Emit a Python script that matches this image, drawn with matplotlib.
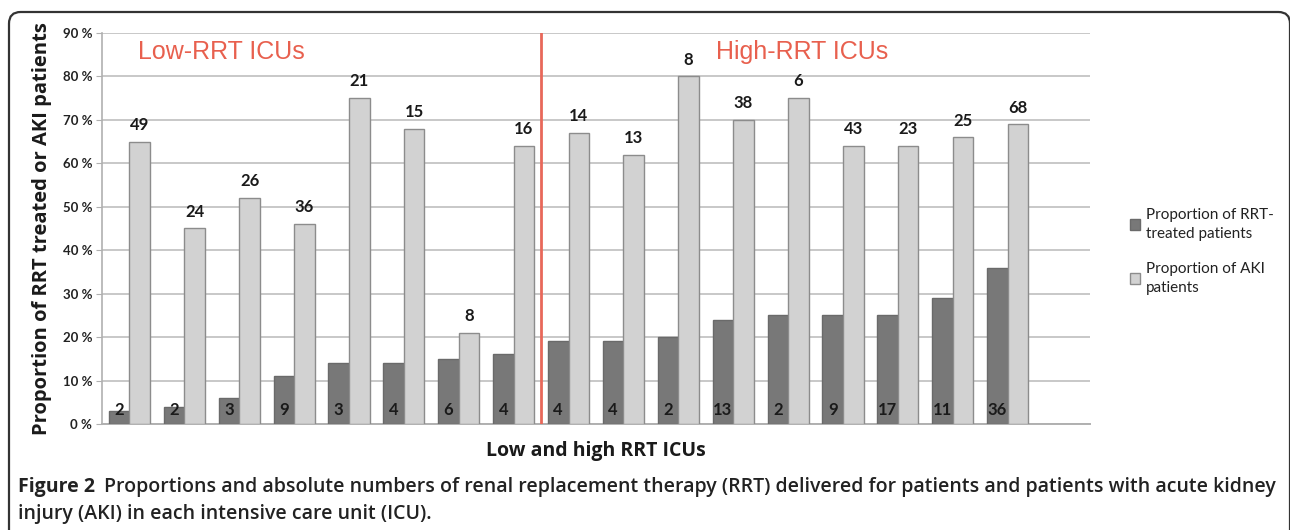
import matplotlib
matplotlib.use('Agg')
import matplotlib.pyplot as plt
from matplotlib.patches import FancyBboxPatch

# proportions (%) per ICU
rrt_pct = [3, 4, 6, 11, 14, 14, 15, 16, 19, 19, 20, 24, 25, 25, 25, 29, 36]
aki_pct = [65, 45, 52, 46, 75, 68, 21, 64, 67, 62, 80, 70, 75, 64, 64, 66, 69]
# absolute numbers
rrt_n = [2, 2, 3, 9, 3, 4, 6, 4, 4, 4, 2, 13, 2, 9, 17, 11, 36]
aki_n = [49, 24, 26, 36, 21, 15, 8, 16, 14, 13, 8, 38, 6, 43, 23, 25, 68]
yticks = [0, 10, 20, 30, 40, 50, 60, 70, 80, 90]

W, H = 1290, 530
fig = plt.figure(figsize=(W / 100, H / 100), dpi=100)
fig.patch.set_facecolor('white')


def fx(x):
    return x / W


def fy(y):
    return 1 - y / H


# rounded frame around figure
frame = FancyBboxPatch((fx(9), fy(600)), fx(1290) - fx(9), fy(12) - fy(600),
                       boxstyle='round,pad=0,rounding_size=0.009',
                       transform=fig.transFigure, fill=False,
                       edgecolor='#333333', linewidth=1.6, mutation_aspect=W / H)
fig.patches.append(frame)

ax = fig.add_axes([fx(102), fy(424), fx(1090) - fx(102), fy(33) - fy(424)])

x = list(range(len(rrt_pct)))
w = 0.375
dark = '#787878'
light = '#d2d2d2'
ax.bar([i - w / 2 for i in x], rrt_pct, w, color=dark, edgecolor='#6a6a6a',
       linewidth=1, label='Proportion of RRT-\ntreated patients', zorder=3)
ax.bar([i + w / 2 for i in x], aki_pct, w, color=light, edgecolor='#8c8c8c',
       linewidth=1, label='Proportion of AKI\npatients', zorder=3)

lab_font = 'Lato'
for i in x:
    ax.text(i + w / 2, aki_pct[i] + 2.0, str(aki_n[i]), ha='center', va='bottom',
            fontsize=12, fontweight='bold', family=lab_font, color='#1a1a1a', zorder=4)
    ax.text(i - w / 2, 1.3, str(rrt_n[i]), ha='center', va='bottom',
            fontsize=12, fontweight='bold', family=lab_font, color='#1a1a1a', zorder=4)

ax.set_xlim(-0.5, 17.5)
ax.set_ylim(0, 90)
ax.set_yticks(yticks)
ax.set_yticklabels([f'{v} %' for v in yticks], fontsize=9.5, fontweight='bold',
                   family=lab_font, color='#222222')
ax.set_xticks([])
ax.yaxis.grid(True, color='#c8c8c8', linewidth=1.4, zorder=0)
ax.set_axisbelow(True)
ax.tick_params(axis='y', length=4, color='#b0b0b0', pad=3)
for s in ['top', 'right']:
    ax.spines[s].set_visible(False)
ax.spines['left'].set_color('#b0b0b0')
ax.spines['bottom'].set_color('#b0b0b0')
ax.spines['left'].set_linewidth(1.2)
ax.spines['bottom'].set_linewidth(1.4)

# divider between low and high RRT ICUs
ax.axvline(7.5, color='#e8685a', linewidth=2, zorder=5)
ax.text(0.16, 85.6, 'Low-RRT ICUs', color='#e8604e', fontsize=18,
        family='Liberation Sans', va='center', ha='left')
ax.text(12.25, 85.6, 'High-RRT ICUs', color='#e8604e', fontsize=18,
        family='Liberation Sans', va='center', ha='center')

ax.set_ylabel('Proportion of RRT treated or AKI patients', fontsize=14.5,
              fontweight='bold', family='Open Sans', color='#1a1a1a', labelpad=8)
ax.set_xlabel('Low and high RRT ICUs', fontsize=14, fontweight='bold',
              family='Open Sans', color='#1a1a1a', labelpad=12)

leg = ax.legend(loc='upper left', bbox_to_anchor=(fx(1116), fy(194)),
                bbox_transform=fig.transFigure, frameon=False, handlelength=0.7,
                handleheight=0.7, handletextpad=0.35, labelspacing=1.35,
                prop={'family': lab_font, 'size': 11})
for t in leg.get_texts():
    t.set_linespacing(1.5)
    t.set_color('#222222')

fig.text(fx(18), fy(487), 'Figure 2', fontsize=14, fontweight='bold',
         family='Open Sans', color='#222222', va='center')
fig.text(fx(104), fy(487), 'Proportions and absolute numbers of renal replacement therapy (RRT) '
         'delivered for patients and patients with acute kidney',
         fontsize=14, fontweight='semibold', family='Open Sans', color='#222222', va='center')
fig.text(fx(18), fy(514), 'injury (AKI) in each intensive care unit (ICU).',
         fontsize=14, fontweight='semibold', family='Open Sans', color='#222222', va='center')

fig.savefig('out.png', dpi=100)
